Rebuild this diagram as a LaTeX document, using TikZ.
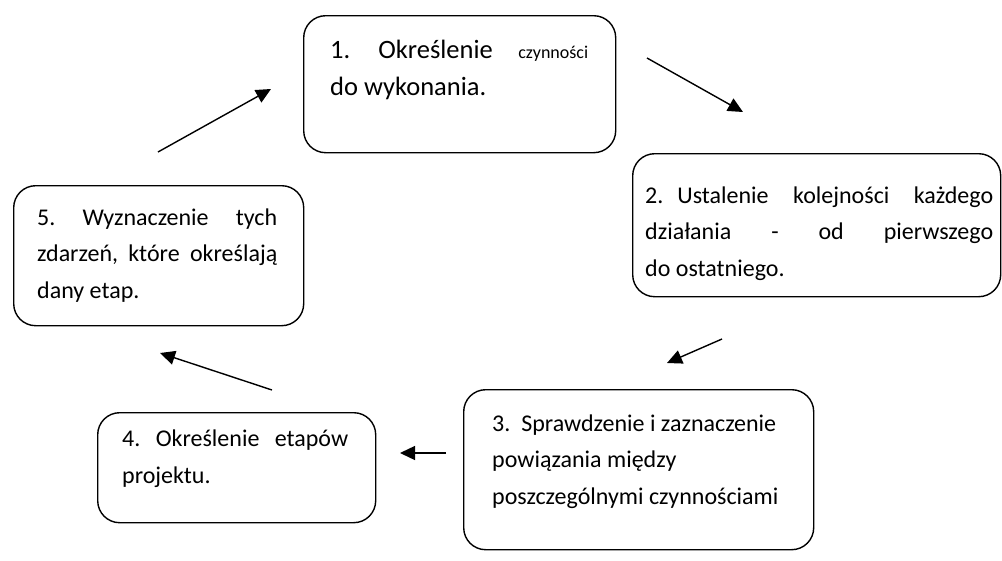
\documentclass[tikz,border=0pt]{standalone}
\usepackage{fontspec}
\setmainfont{Carlito}
\usetikzlibrary{arrows.meta}
\begin{document}
\begin{tikzpicture}[x=1pt,y=-1pt,
  stepbox/.style={draw, line width=1.4pt, rounded corners=22pt, rectangle, inner sep=0pt, anchor=north west},
  txt/.style={anchor=base west, inner sep=0pt, align=left, font=\fontsize{24}{36.5}\selectfont},
  arr/.style={line width=1.4pt, -{Triangle[length=15pt,width=14pt]}}]
\useasboundingbox (0,0) rectangle (1002,560);
% boxes
\node[stepbox, minimum width=312pt, minimum height=137pt] (b1) at (303,15) {};
\node[stepbox, minimum width=368pt, minimum height=143pt] (b2) at (632,153) {};
\node[stepbox, minimum width=350pt, minimum height=160pt] (b3) at (463,389) {};
\node[stepbox, minimum width=278pt, minimum height=110pt] (b4) at (97,412) {};
\node[stepbox, minimum width=290pt, minimum height=140pt] (b5) at (13,185) {};
% texts (base anchor = baseline of last line)
\node[txt, font=\fontsize{26.5}{37}\selectfont] (t1) at (330,95) {\hbox to 258pt{1.\hspace{28pt}Określenie\hfill{\fontsize{18}{18}\selectfont czynności}}\\do wykonania.};
\node[txt] (t2) at (645,276) {\hbox to 348pt{2.\hspace{14pt}Ustalenie\hfill kolejności\hfill każdego}\\\hbox to 348pt{działania\hfill -\hfill od\hfill pierwszego}\\do ostatniego.};
\node[txt] (t3) at (492,504) {3.\ \ Sprawdzenie i zaznaczenie\\powiązania między\\poszczególnymi czynnościami};
\node[txt] (t4) at (122,483) {\hbox to 226pt{4.\hfill Określenie\hfill etapów}\\projektu.};
\node[txt] (t5) at (37,298) {\hbox to 240pt{5.\hfill Wyznaczenie\hfill tych}\\\hbox to 240pt{zdarzeń,\hfill które\hfill określają}\\dany etap.};
% arrow ends
\coordinate (a1s) at (647,58);  \coordinate (a1e) at (743,112);
\coordinate (a2s) at (722,339); \coordinate (a2e) at (667,363);
\coordinate (a3s) at (446,453); \coordinate (a3e) at (400,453);
\coordinate (a4s) at (272,390); \coordinate (a4e) at (160,353);
\coordinate (a5s) at (158,152); \coordinate (a5e) at (271,89);
\draw[arr] (a1s) -- (a1e);
\draw[arr] (a2s) -- (a2e);
\draw[arr] (a3s) -- (a3e);
\draw[arr] (a4s) -- (a4e);
\draw[arr] (a5s) -- (a5e);
\end{tikzpicture}
\end{document}
